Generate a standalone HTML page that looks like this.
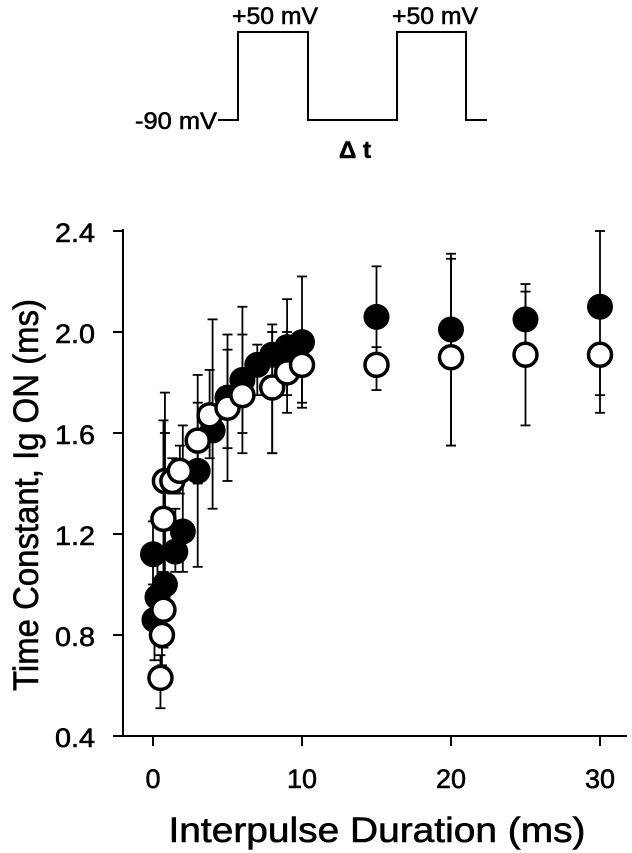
<!DOCTYPE html>
<html><head><meta charset="utf-8"><style>
body{margin:0;background:#fff;}
svg{display:block;font-family:"Liberation Sans",sans-serif;}
text{stroke:#000;stroke-width:0.6;}
</style></head><body>
<svg id="chart" width="632" height="853">
<g>
<polyline points="218,120 238,120 238,32 308,32 308,120 397,120 397,32 466,32 466,120 487,120" fill="none" stroke="#000" stroke-width="2"/>
<text x="217" y="129" text-anchor="end" font-size="24" textLength="82" lengthAdjust="spacingAndGlyphs">-90 mV</text>
<text x="275" y="24" text-anchor="middle" font-size="24" textLength="86" lengthAdjust="spacingAndGlyphs">+50 mV</text>
<text x="435" y="24" text-anchor="middle" font-size="24" textLength="86" lengthAdjust="spacingAndGlyphs">+50 mV</text>
<text x="355" y="158" text-anchor="middle" font-size="24" font-weight="bold">Δ t</text>
</g>
<g id="axes"></g>
<g id="marks"></g>
<text transform="translate(38,495) rotate(-90)" text-anchor="middle" font-size="35" textLength="392" lengthAdjust="spacingAndGlyphs">Time Constant, Ig ON (ms)</text>
<text x="377" y="842" text-anchor="middle" font-size="35" textLength="417" lengthAdjust="spacingAndGlyphs">Interpulse Duration (ms)</text>
</svg>
<script>
const filledX=[0,0.1,0.3,0.8,1.5,2,3,4,5,6,7,8,9,10,15,20,25,30];
const filledY=[1.12,0.86,0.95,1.0,1.13,1.21,1.45,1.61,1.74,1.81,1.87,1.91,1.94,1.96,2.06,2.01,2.05,2.10];
const filledLo=[1.0,0.7,0.8,0.9,1.05,1.05,1.07,1.30,1.41,1.52,1.75,1.52,1.75,1.72,1.85,1.55,1.95,1.75];
const filledHi=[1.25,1.0,1.1,1.76,1.3,1.63,1.83,2.05,1.99,2.10,1.95,2.03,2.13,2.22,2.26,2.31,2.19,2.40];
const openX=[0.5,0.6,0.7,0.7,0.8,1.3,1.8,3,3.8,5,6,8,9,10,15,20,25,30];
const openY=[0.63,0.80,0.90,1.26,1.41,1.41,1.45,1.57,1.67,1.70,1.75,1.78,1.84,1.87,1.87,1.90,1.91,1.91];
const openLo=[0.51,0.68,0.75,1.05,1.10,1.36,1.36,1.40,1.50,1.54,1.60,1.52,1.68,1.70,1.77,1.55,1.63,1.68];
const openHi=[0.72,0.95,1.05,1.65,1.60,1.50,1.55,1.72,1.85,1.93,1.99,2.00,2.00,2.00,1.94,2.29,2.16,1.93];
const yTicks=[0.4,0.8,1.2,1.6,2.0,2.4];
const xTicks=[0,10,20,30];
const NS='http://www.w3.org/2000/svg';
function sx(v){return 153+v*14.9;}
function sy(v){return 736-(v-0.4)*252.5;}
function mk(tag,attrs,parent){const e=document.createElementNS(NS,tag);for(const k in attrs)e.setAttribute(k,attrs[k]);parent.appendChild(e);return e;}
const axes=document.getElementById('axes'),marks=document.getElementById('marks');
let a=mk('line',{x1:123,y1:229,x2:123,y2:737,stroke:'#000','stroke-width':2},axes);


a=mk('line',{x1:113,y1:736,x2:627,y2:736,stroke:'#000','stroke-width':2},axes);


yTicks.forEach(t=>{
 const l=mk('line',{x1:113,y1:sy(t),x2:123,y2:sy(t),stroke:'#000','stroke-width':2},axes);
 
 
 const tx=mk('text',{x:95,y:sy(t)+11,'text-anchor':'end','font-size':27,'textLength':40,'lengthAdjust':'spacingAndGlyphs'},axes);tx.textContent=t.toFixed(1);
 
 
});
xTicks.forEach(t=>{
 const l=mk('line',{x1:sx(t),y1:736,x2:sx(t),y2:746,stroke:'#000','stroke-width':2},axes);
 
 
 const tx=mk('text',{x:sx(t),y:788,'text-anchor':'middle','font-size':27},axes);tx.textContent=t;
 
 
});
function errs(X,Lo,Hi,name){
 X.forEach((x,i)=>{
  const g=mk('g',{stroke:'#000','stroke-width':1.8},marks);
  
  
  mk('line',{x1:sx(x),y1:sy(Lo[i]),x2:sx(x),y2:sy(Hi[i])},g);
  mk('line',{x1:sx(x)-5,y1:sy(Lo[i]),x2:sx(x)+5,y2:sy(Lo[i])},g);
  mk('line',{x1:sx(x)-5,y1:sy(Hi[i]),x2:sx(x)+5,y2:sy(Hi[i])},g);
 });
}
errs(filledX,filledLo,filledHi,'filled-error-bar');
errs(openX,openLo,openHi,'open-error-bar');
filledX.forEach((x,i)=>{
 const c=mk('circle',{cx:sx(x),cy:sy(filledY[i]),r:13,fill:'#000'},marks);
 
 
});
openX.forEach((x,i)=>{
 const c=mk('circle',{cx:sx(x),cy:sy(openY[i]),r:11.5,fill:'#fff',stroke:'#000','stroke-width':3.5},marks);
 
 
});
</script>
</body></html>
